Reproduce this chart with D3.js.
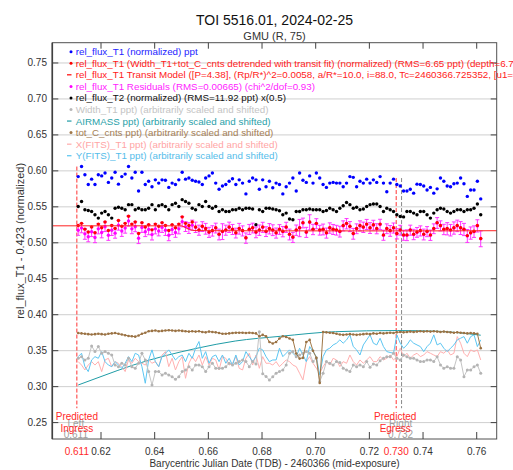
<!DOCTYPE html>
<html><head><meta charset="utf-8">
<script src="https://cdn.jsdelivr.net/npm/d3@7"></script>
<style>body{margin:0;background:#fff}svg{display:block;font-family:"Liberation Sans",Arial,sans-serif}</style>
</head><body><svg id="c" width="513" height="470"></svg>
<script>
const times=[.6115,.61275,.614,.61525,.6165,.61775,.619,.62025,.6215,.62275,
.624,.62525,.6265,.62775,.629,.63025,.6315,.63275,.634,.63525,
.6365,.63775,.639,.64025,.6415,.64275,.644,.64525,.6465,.64775,
.649,.65025,.6515,.65275,.654,.65525,.6565,.65775,.659,.66025,
.6615,.66275,.664,.66525,.6665,.66775,.669,.67025,.6715,.67275,
.674,.67525,.6765,.67775,.679,.68025,.6815,.68275,.684,.68525,
.6865,.68775,.689,.69025,.6915,.69275,.694,.69525,.6965,.69775,
.699,.70025,.7015,.70275,.704,.70525,.7065,.70775,.709,.71025,
.7115,.71275,.714,.71525,.7165,.71775,.719,.72025,.7215,.72275,
.724,.72525,.7265,.72775,.729,.73025,.7315,.73275,.734,.73525,
.7365,.73775,.739,.74025,.7415,.74275,.744,.74525,.7465,.74775,
.749,.75025,.7515,.75275,.754,.75525,.7565,.75775,.759,.76025,
.7615];
const fluxT1=[.592,.606,.5945,.581,.5885,.581,.5945,.593,.597,.584,
.590,.598,.5815,.592,.5955,.606,.590,.598,.572,.598,
.581,.5855,.578,.5875,.583,.5875,.587,.577,.583,.581,
.5875,.598,.5885,.590,.587,.5855,.5845,.581,.590,.593,
.597,.583,.5745,.579,.581,.5855,.589,.581,.5875,.583,
.568,.5855,.590,.5875,.5745,.5875,.578,.5855,.5765,.583,
.581,.568,.578,.583,.590,.572,.597,.587,.584,.593,
.583,.597,.590,.581,.577,.583,.584,.583,.583,.578,
.583,.592,.591,.578,.5855,.583,.5885,.583,.5875,.584,
.592,.583,.571,.583,.5885,.581,.579,.572,.572,.5745,
.569,.5815,.581,.579,.5735,.577,.569,.575,.590,.5855,
.579,.578,.582,.583,.590,.582,.5645,.5735,.5735,.5855,
.561];
const fluxT2=[.5505,.5575,.546,.545,.5436,.539,.5343,.5413,.5436,.539,
.5343,.548,.5495,.548,.546,.553,.553,.546,.548,.546,
.546,.548,.553,.546,.5515,.553,.5505,.546,.553,.555,
.5505,.560,.5575,.555,.548,.546,.553,.5505,.5575,.5505,
.548,.5505,.5436,.546,.5436,.5436,.546,.546,.548,.546,
.548,.548,.547,.525,.546,.5436,.548,.548,.547,.546,
.5445,.539,.5413,.533,.532,.5436,.5436,.546,.546,.547,
.546,.546,.546,.5436,.545,.548,.546,.5436,.548,.5515,
.556,.553,.548,.5495,.546,.547,.5505,.553,.554,.554,
.5505,.5436,.548,.546,.5436,.539,.5366,.536,.5436,.5436,
.5413,.539,.5436,.5436,.539,.5343,.5413,.546,.548,.547,
.5436,.5413,.5436,.546,.546,.5436,.546,.546,.548,.554,
.539];
const detrended=[.524,.527,.519,.515,.522,.514,.526,.521,.529,.517,
.524,.520,.531,.523,.527,.537,.526,.529,.513,.528,
.522,.525,.518,.526,.523,.528,.524,.517,.525,.521,
.526,.536,.527,.524,.529,.522,.518,.523,.520,.515,
.517,.521,.512,.516,.518,.522,.519,.514,.520,.517,
.507,.519,.521,.515,.518,.522,.516,.520,.518,.514,
.519,.516,.522,.512,.508,.518,.521,.528,.515,.529,
.519,.527,.518,.519,.514,.521,.519,.518,.516,.524,
.527,.523,.513,.520,.524,.522,.526,.521,.525,.520,
.526,.511,.520,.517,.521,.513,.518,.511,.511,.518,
.512,.515,.517,.512,.516,.511,.520,.528,.524,.519,
.520,.518,.521,.524,.521,.519,.510,.514,.516,.524,
.506];
const residuals=[.5174,.5204,.5124,.5084,.5154,.5074,.5194,.5144,.5224,.5104,
.5174,.5134,.5244,.5164,.5204,.5304,.5194,.5224,.5064,.5214,
.5154,.5184,.5114,.5194,.5164,.5214,.5174,.5104,.5184,.5144,
.5194,.5294,.5225,.5205,.5245,.5215,.5175,.5225,.5195,.5145,
.5165,.5205,.5115,.5155,.5175,.5215,.5185,.5135,.5195,.5165,
.5065,.5185,.5205,.5145,.5175,.5215,.5155,.5195,.5175,.5135,
.5185,.5155,.5215,.5115,.5075,.5175,.5205,.5275,.5145,.5285,
.5185,.5265,.5175,.5185,.5135,.5205,.5185,.5175,.5155,.5235,
.5265,.5225,.5125,.5195,.5235,.5215,.5255,.5205,.5245,.5195,
.5255,.5105,.5195,.5165,.5205,.5125,.5175,.5105,.5105,.5175,
.5115,.5145,.5165,.5115,.5155,.5105,.5195,.5275,.5235,.5185,
.5195,.5175,.5205,.5235,.5205,.5185,.5095,.5135,.5155,.5235,
.5055];
const resErr=[.007,.0065,.0075,.007,.0068,.0072,.007,.0075,.0068,.007,
.0072,.007,.0068,.0075,.007,.0072,.0068,.007,.0075,.007,
.0068,.0072,.0075,.007,.0068,.007,.0072,.0075,.007,.0068,
.007,.0072,.0068,.0075,.007,.0072,.007,.0068,.0075,.007,
.0072,.0068,.0075,.011,.007,.0072,.007,.0068,.0075,.007,
.0072,.007,.0068,.0075,.0072,.007,.0068,.0072,.0075,.007,
.0068,.0072,.007,.0075,.007,.0072,.012,.0068,.007,.0105,
.0072,.007,.0068,.0075,.007,.0072,.007,.0068,.0075,.007,
.0072,.007,.0075,.0068,.007,.0072,.007,.0075,.0068,.007,
.0072,.007,.0068,.0075,.007,.0072,.0068,.007,.0075,.007,
.0072,.0068,.007,.0075,.007,.0072,.0068,.0075,.007,.0072,
.0085,.008,.0085,.008,.009,.0085,.009,.0085,.008,.0085,
.011];
const widthT1=[.3394,.3417,.3371,.3394,.3566,.3487,.3557,.3464,.3487,.3464,
.344,.330,.3278,.3325,.330,.3394,.3278,.3255,.3325,.3464,
.3371,.3209,.3023,.3209,.3209,.3162,.3186,.3162,.3139,.3102,
.3139,.3209,.3232,.3278,.3232,.330,.330,.3278,.3209,.3278,
.3325,.3255,.3255,.3255,.3278,.3325,.330,.3325,.3348,.3371,
.3348,.3278,.3348,.3316,.3764,.318,.314,.3093,.3139,.3186,
.3209,.3232,.330,.3464,.3487,.3417,.344,.3464,.3487,.3464,
.3348,.3394,.307,.3186,.3348,.3325,.330,.3348,.3334,.3255,
.3232,.3209,.330,.3278,.330,.3278,.3348,.327,.3316,.330,
.336,.3394,.3417,.3417,.3464,.3394,.3371,.344,.3417,.3394,
.3394,.3371,.3348,.3348,.3371,.3371,.3348,.3417,.330,.3255,
.3278,.3255,.3255,.3417,.3371,.3139,.3232,.3232,.3278,.330,
.3186];
const totCcnts=[.3745,.374,.3735,.373,.3725,.373,.3735,.373,.3725,.3735,
.374,.3745,.3735,.3725,.3715,.3705,.370,.3695,.371,.3735,
.375,.377,.3775,.378,.377,.3775,.378,.3785,.378,.3775,
.378,.3775,.377,.3765,.377,.3765,.377,.376,.3755,.3765,
.376,.3755,.3745,.3735,.3735,.374,.3745,.375,.375,.375,
.3745,.375,.3745,.374,.370,.372,.370,.362,.360,.362,
.367,.370,.369,.367,.365,.346,.339,.340,.362,.365,
.350,.340,.305,.376,.3755,.375,.3745,.3735,.3725,.372,
.3725,.373,.3725,.372,.3725,.373,.3735,.373,.374,.3735,
.3745,.374,.3745,.375,.3745,.3755,.376,.3755,.376,.3765,
.376,.3765,.377,.3765,.377,.3765,.377,.3765,.376,.3765,
.376,.3755,.375,.3755,.375,.3745,.374,.3745,.374,.3735,
.3535];
const xFits=[.3348,.330,.3232,.330,.3348,.330,.3348,.3209,.3371,.3394,
.3278,.3348,.3325,.3278,.3209,.3371,.3325,.3394,.3348,.3325,
.330,.3371,.3325,.3348,.3278,.344,.3487,.3278,.3394,.3232,
.3348,.3417,.3116,.3325,.3417,.3348,.344,.330,.3417,.330,
.3394,.3371,.3232,.3417,.3394,.330,.3325,.3417,.3255,.3232,
.3394,.3464,.330,.344,.3255,.3417,.3325,.3325,.330,.3348,
.3278,.3325,.3371,.3348,.330,.3278,.3186,.3093,.3348,.3417,
.3325,.3255,.3186,.3278,.3348,.330,.3394,.3371,.3278,.3348,
.3325,.344,.3348,.330,.3371,.3325,.3371,.3417,.3348,.3348,
.3417,.3371,.3394,.344,.3371,.3417,.3534,.3417,.3464,.3394,
.344,.3464,.3417,.344,.3487,.3464,.344,.3417,.3487,.3464,
.3511,.344,.3464,.3696,.3604,.3464,.3417,.3511,.3487,.3511,
.3371];
const yFits=[.3417,.3464,.3278,.3209,.3371,.3417,.3394,.3487,.3348,.330,
.3278,.3348,.330,.3255,.3325,.3417,.3348,.3464,.344,.3278,
.3047,.3371,.3511,.3348,.3278,.3417,.3464,.3511,.344,.3371,
.3417,.344,.3348,.3464,.3394,.3534,.3627,.3394,.3487,.3325,
.3417,.344,.3348,.344,.3325,.3394,.330,.344,.330,.3348,
.3487,.3417,.3348,.3417,.3534,.3511,.3417,.3348,.3371,.3371,
.3534,.3417,.3464,.3511,.3464,.3417,.3534,.344,.3348,.3557,
.3487,.3417,.3162,.3417,.3511,.3534,.358,.3604,.365,.3604,
.365,.372,.3557,.3511,.344,.358,.365,.372,.3604,.358,
.3673,.3557,.3487,.3475,.3464,.372,.3604,.3534,.358,.365,
.3604,.358,.3557,.3487,.3557,.3604,.372,.358,.3604,.3534,
.3487,.3534,.358,.365,.3673,.3696,.3604,.3696,.372,.3557,
.365];
const airmassT=[.6115,.620,.632,.6558,.670,.6869,.7074,.7305,.7454,.7615];
const airmassV=[.3023,.314,.330,.3534,.3634,.370,.3764,.378,.377,.3715];
const modelT=[.6018,.6500,.6510,.6520,.6530,.6540,.6550,.6600,.6900,.7254,.7500,.7675];
const modelV=[.5236,.5236,.5222,.5200,.5185,.5175,.5170,.5168,.5166,.5165,.5166,.5168];
const xTicks=[0.62,0.64,0.66,0.68,0.70,0.72,0.74,0.76];
const xTickLabels=["0.62","0.64","0.66","0.68","0.70","0.72","0.74","0.76"];
const yTicks=[0.25,0.30,0.35,0.40,0.45,0.50,0.55,0.60,0.65,0.70,0.75];
const yTickLabels=["0.25","0.30","0.35","0.40","0.45","0.50","0.55","0.60","0.65","0.70","0.75"];
const ingress=0.611, egress=0.730, rightEdge=0.732;
const title="TOI 5516.01, 2024-02-25", subtitle="GMU (R, 75)";
const xLabel="Barycentric Julian Date (TDB) - 2460366 (mid-exposure)";
const yLabel="rel_flux_T1 - 0.423 (normalized)";
const legendItems=[
 ["rel_flux_T1 (normalized) ppt","#0000ff","#2424ff","dot"],
 ["rel_flux_T1 (Width_T1+tot_C_cnts detrended with transit fit) (normalized) (RMS=6.65 ppt) (depth=6.71 ppt)","#ff0000","#ff1a1a","dot"],
 ["rel_flux_T1 Transit Model ([P=4.38], (Rp/R*)^2=0.0058, a/R*=10.0, i=88.0, Tc=2460366.725352, [u1=0.3], [u2=0.3])","#ff0000","#ff1a1a","dash"],
 ["rel_flux_T1 Residuals (RMS=0.00665) (chi^2/dof=0.93)","#ff00ff","#ff22ff","dot"],
 ["rel_flux_T2 (normalized) (RMS=11.92 ppt) x(0.5)","#000000","#111111","dot"],
 ["Width_T1 ppt) (arbitrarily scaled and shifted)","#b8b8b8","#c4c4c4","dot"],
 ["AIRMASS ppt) (arbitrarily scaled and shifted)","#1f9ca6","#2a9fa9","dash"],
 ["tot_C_cnts ppt) (arbitrarily scaled and shifted)","#a07848","#a58055","dot"],
 ["X(FITS)_T1 ppt) (arbitrarily scaled and shifted)","#ffaaaa","#ffa5a5","dash"],
 ["Y(FITS)_T1 ppt) (arbitrarily scaled and shifted)","#55c4f0","#55bdea","dash"]
];

const svg=d3.select("#c");
const L=52.3,R=496.7,T=42.7,B=439;
const x=d3.scaleLinear().domain([0.60185,0.76745]).range([L,R]);
const y=d3.scaleLinear().domain([0.2272,0.7782]).range([B,T]);
const idx=d3.range(times.length);

svg.append("g").selectAll("line").data(yTicks).join("line")
 .attr("x1",L).attr("x2",R).attr("y1",d=>y(d)).attr("y2",d=>y(d))
 .attr("stroke","#cfcfcf").attr("stroke-width",1);

const vl=svg.append("g");
vl.append("line").attr("x1",x(ingress)).attr("x2",x(ingress)).attr("y1",y(0.606)).attr("y2",y(0.27))
 .attr("stroke","#ff3333").attr("stroke-dasharray","4,2");
vl.append("line").attr("x1",x(rightEdge)).attr("x2",x(rightEdge)).attr("y1",y(0.590)).attr("y2",y(0.27))
 .attr("stroke","#888").attr("stroke-dasharray","4,2");
vl.append("line").attr("x1",x(egress)).attr("x2",x(egress)).attr("y1",y(0.590)).attr("y2",y(0.27))
 .attr("stroke","#ff3333").attr("stroke-dasharray","4,2");

const line=(arr)=>d3.line().x(i=>x(times[i])).y(i=>y(arr[i]))(idx);
svg.append("path").attr("d",d3.line().curve(d3.curveMonotoneX).x((d,i)=>x(airmassT[i])).y(d=>y(d))(airmassV))
 .attr("fill","none").attr("stroke","#1f9ca6").attr("stroke-width",1);
svg.append("path").attr("d",line(xFits)).attr("fill","none").attr("stroke","#ffb0b0").attr("stroke-width",1);
svg.append("path").attr("d",line(yFits)).attr("fill","none").attr("stroke","#5cc6f2").attr("stroke-width",1);
svg.append("path").attr("d",line(widthT1)).attr("fill","none").attr("stroke","#c4c4c4").attr("stroke-width",1);
svg.append("g").selectAll("circle").data(idx).join("circle")
 .attr("cx",i=>x(times[i])).attr("cy",i=>y(widthT1[i])).attr("r",1.5).attr("fill","#b4b4b4");
svg.append("path").attr("d",line(totCcnts)).attr("fill","none").attr("stroke","#a07848").attr("stroke-width",1);
svg.append("g").selectAll("circle").data(idx).join("circle")
 .attr("cx",i=>x(times[i])).attr("cy",i=>y(totCcnts[i])).attr("r",1.3).attr("fill","#9a7244");

function dots(arr,color,r){
 svg.append("g").selectAll("circle").data(idx).join("circle")
  .attr("cx",i=>x(times[i])).attr("cy",i=>y(arr[i])).attr("r",r).attr("fill",color);
}
dots(fluxT2,"#000",1.7);
dots(fluxT1,"#0000ff",1.7);
const eb=svg.append("g").attr("stroke","#ff33ff").attr("stroke-width",1);
idx.forEach(i=>{
 const cx=x(times[i]),y1=y(residuals[i]+resErr[i]),y2=y(residuals[i]-resErr[i]);
 eb.append("line").attr("x1",cx).attr("x2",cx).attr("y1",y1).attr("y2",y2);
 eb.append("line").attr("x1",cx-2).attr("x2",cx+2).attr("y1",y1).attr("y2",y1);
 eb.append("line").attr("x1",cx-2).attr("x2",cx+2).attr("y1",y2).attr("y2",y2);
});
dots(residuals,"#ff00ff",1.7);
dots(detrended,"#ff0000",1.7);
svg.append("path").attr("d",d3.line().x((d,i)=>x(modelT[i])).y(d=>y(d))(modelV))
 .attr("fill","none").attr("stroke","#ff2020").attr("stroke-width",1);

svg.append("rect").attr("x",L).attr("y",T).attr("width",R-L).attr("height",B-T)
 .attr("fill","none").attr("stroke","#505050").attr("stroke-width",1);
svg.append("line").attr("x1",L).attr("x2",L).attr("y1",T).attr("y2",B).attr("stroke","#404040").attr("stroke-width",1.6);
const tk=svg.append("g").attr("stroke","#404040").attr("stroke-width",1);
xTicks.forEach(v=>{
 tk.append("line").attr("x1",x(v)).attr("x2",x(v)).attr("y1",B).attr("y2",B-7);
 tk.append("line").attr("x1",x(v)).attr("x2",x(v)).attr("y1",T).attr("y2",T+6);
});
yTicks.forEach(v=>{
 tk.append("line").attr("x1",L).attr("x2",L+6).attr("y1",y(v)).attr("y2",y(v));
 tk.append("line").attr("x1",R).attr("x2",R-6).attr("y1",y(v)).attr("y2",y(v));
});
svg.append("g").selectAll("text").data(xTicks).join("text")
 .attr("x",d=>x(d)).attr("y",455).attr("text-anchor","middle").attr("font-size",10).attr("fill","#333")
 .text((d,i)=>xTickLabels[i]);
svg.append("g").selectAll("text").data(yTicks).join("text")
 .attr("x",47).attr("y",d=>y(d)+3.5).attr("text-anchor","end").attr("font-size",10).attr("fill","#333")
 .text((d,i)=>yTickLabels[i]);

const pl=svg.append("g").attr("font-size",10).attr("text-anchor","middle");
pl.append("text").attr("x",x(ingress)-1).attr("y",426.5).attr("fill","#a0a0a0").text("Left");
pl.append("text").attr("x",x(ingress)-1).attr("y",438).attr("fill","#a0a0a0").text(String(ingress));
pl.append("text").attr("x",x(rightEdge)-1).attr("y",426.5).attr("fill","#a0a0a0").text("Right");
pl.append("text").attr("x",x(rightEdge)-1).attr("y",438).attr("fill","#a0a0a0").text(String(rightEdge));
pl.append("text").attr("x",x(ingress)).attr("y",419.5).attr("fill","#ff2a2a").text("Predicted");
pl.append("text").attr("x",x(ingress)).attr("y",432).attr("fill","#ff2a2a").text("Ingress");
pl.append("text").attr("x",x(egress)-1).attr("y",419.5).attr("fill","#ff2a2a").text("Predicted");
pl.append("text").attr("x",x(egress)-1).attr("y",432).attr("fill","#ff2a2a").text("Egress");
pl.append("text").attr("x",x(ingress)).attr("y",455).attr("fill","#ff2a2a").text(ingress.toFixed(3));
pl.append("text").attr("x",x(egress)).attr("y",455).attr("fill","#ff2a2a").text(egress.toFixed(3));

svg.append("text").attr("x",(L+R)/2).attr("y",25).attr("text-anchor","middle").attr("font-size",14).attr("fill","#111").text(title);
svg.append("text").attr("x",(L+R)/2).attr("y",39.5).attr("text-anchor","middle").attr("font-size",11).attr("fill","#333").text(subtitle);
svg.append("text").attr("x",(L+R)/2).attr("y",467).attr("text-anchor","middle").attr("font-size",10).attr("fill","#333").text(xLabel);
svg.append("text").attr("transform",`translate(24,${(T+B)/2}) rotate(-90)`).attr("text-anchor","middle").attr("font-size",11).attr("fill","#333").text(yLabel);

const lg=svg.append("g").attr("font-size",9.8);
legendItems.forEach((it,k)=>{
 const cy=51.7+k*11.56;
 if(it[3]==="dot") lg.append("circle").attr("cx",71).attr("cy",cy).attr("r",1.5).attr("fill",it[1]);
 else lg.append("line").attr("x1",67).attr("x2",71.5).attr("y1",cy).attr("y2",cy).attr("stroke",it[1]).attr("stroke-width",1.2);
 lg.append("text").attr("x",75.7).attr("y",cy+3.5).attr("fill",it[2]).text(it[0]);
});
</script></body></html>
